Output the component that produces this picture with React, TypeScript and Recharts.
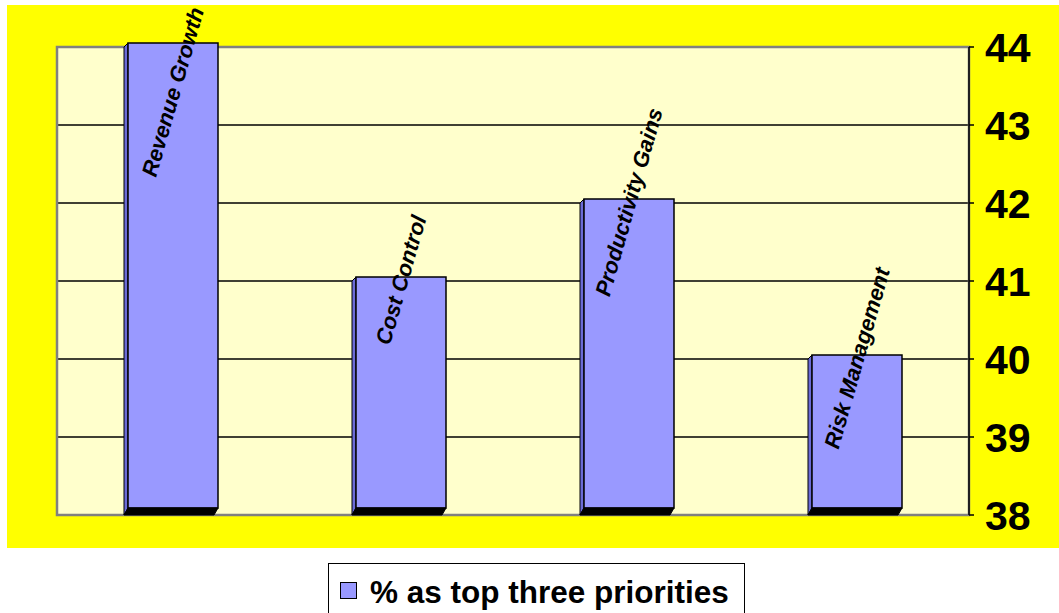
import {
  BarChart,
  Bar,
  XAxis,
  YAxis,
  CartesianGrid,
  Legend,
  ReferenceArea,
} from "recharts";

// chart values
const categories = [
  "Revenue Growth",
  "Cost Control",
  "Productivity Gains",
  "Risk Management",
];
const shareValues = [44, 41, 42, 40];
const yTicks = [38, 39, 40, 41, 42, 43, 44];
const seriesName = "% as top three priorities";

const chartData = categories.map((name, i) => ({ name, value: shareValues[i] }));

const FONT = "'Liberation Sans', Arial, sans-serif";
const BAR_FILL = "#9999FF";
const BAR_SIDE = "#6B6BD6";
const DEPTH = 4;
const FLOOR = 7;
const LABEL_SIZE = 22;
const LABEL_ANGLE = 74;
const AREA_TOP = 5;

// fake 3d bar like the old excel chart, with the rotated category name on it
function Bar3D(props: any) {
  const { x, y, width, height } = props;
  const name = props.payload?.name ?? props.name ?? "";
  const bottom = y + height;
  const rad = (LABEL_ANGLE * Math.PI) / 180;

  // keep the label inside the yellow area (excel pushes it down)
  const textW = name.length * LABEL_SIZE * 0.56;
  const half = (textW / 2) * Math.sin(rad) + LABEL_SIZE * 0.35 * Math.cos(rad);
  const cx = x + width / 2 + DEPTH / 2;
  const cy = Math.max(y - 1, AREA_TOP + half + 2);

  return (
    <g>
      <polygon
        points={`${x},${y} ${x + DEPTH},${y - DEPTH} ${x + DEPTH},${bottom - FLOOR} ${x},${bottom}`}
        fill={BAR_SIDE}
        stroke="#000"
        strokeWidth={1}
      />
      <rect
        x={x + DEPTH}
        y={y - DEPTH}
        width={width - DEPTH}
        height={height + DEPTH - FLOOR}
        fill={BAR_FILL}
        stroke="#000"
        strokeWidth={1.5}
      />
      <polygon
        points={`${x},${bottom} ${x + width - DEPTH},${bottom} ${x + width},${bottom - FLOOR} ${x + DEPTH},${bottom - FLOOR}`}
        fill="#000"
        stroke="#000"
      />
      <text
        x={cx}
        y={cy}
        textAnchor="middle"
        dominantBaseline="central"
        transform={`rotate(${-LABEL_ANGLE}, ${cx}, ${cy})`}
        fontFamily={FONT}
        fontSize={LABEL_SIZE}
        fontWeight="bold"
        fontStyle="italic"
        fill="#000"
      >
        {name}
      </text>
    </g>
  );
}

function LegendBox() {
  return (
    <div
      style={{
        position: "relative",
        width: 417,
        height: 52,
        border: "1.5px solid #000",
        boxSizing: "border-box",
        background: "#fff",
      }}
    >
      <div
        style={{
          position: "absolute",
          left: 11,
          top: 18,
          width: 15,
          height: 15,
          background: BAR_FILL,
          border: "1.5px solid #000",
        }}
      />
      <div
        style={{
          position: "absolute",
          left: 41,
          top: 13,
          fontFamily: FONT,
          fontSize: 31.5,
          fontWeight: "bold",
          lineHeight: "31px",
          whiteSpace: "nowrap",
          color: "#000",
        }}
      >
        {seriesName}
      </div>
    </div>
  );
}

export default function App() {
  return (
    <div
      style={{
        position: "absolute",
        left: 0,
        top: 0,
        width: 1059,
        height: 613,
        background: "#fff",
        overflow: "hidden",
      }}
    >
      <div
        style={{
          position: "absolute",
          left: 7,
          top: 5,
          width: 1052,
          height: 543,
          background: "#FFFF00",
        }}
      />
      <BarChart
        width={1059}
        height={613}
        data={chartData}
        margin={{ top: 47, right: 0, bottom: 98, left: 57 }}
        barCategoryGap={0}
      >
        <CartesianGrid
          vertical={false}
          stroke="#000"
          strokeWidth={1.5}
          fill="#FFFFCC"
          fillOpacity={1}
        />
        <ReferenceArea
          y1={38}
          y2={44}
          fill="none"
          stroke="#808080"
          strokeWidth={2.5}
        />
        <XAxis dataKey="name" hide />
        <YAxis
          orientation="right"
          width={90}
          domain={[38, 44]}
          ticks={yTicks}
          interval={0}
          axisLine={{ stroke: "#000", strokeWidth: 1.5 }}
          tickLine={{ stroke: "#000", strokeWidth: 1.5 }}
          tickSize={5}
          tickMargin={11}
          tick={{
            fill: "#000",
            fontSize: 41,
            fontWeight: "bold",
            fontFamily: FONT,
          }}
        />
        <Legend
          verticalAlign="middle"
          align="center"
          layout="horizontal"
          wrapperStyle={{ left: 328, top: 563, width: 417 }}
          content={() => <LegendBox />}
        />
        <Bar
          dataKey="value"
          name={seriesName}
          fill={BAR_FILL}
          barSize={94}
          shape={Bar3D}
          isAnimationActive={false}
        />
      </BarChart>
    </div>
  );
}
